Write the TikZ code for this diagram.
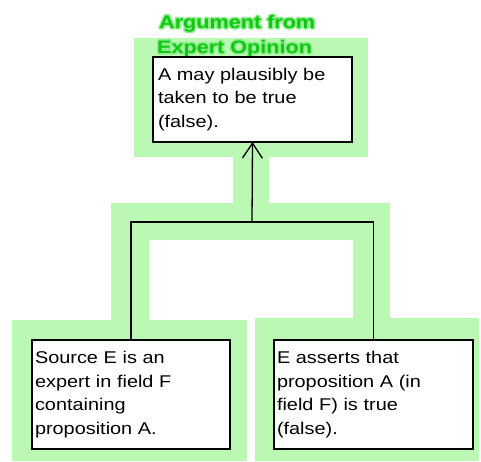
\documentclass[tikz,border=0pt]{standalone}
\usepackage{fontspec}
\usetikzlibrary{arrows.meta}
\newfontfamily\boxfont[FakeStretch=1.17]{Liberation Sans}
\newfontfamily\titlefont[FakeStretch=1.2]{Liberation Sans Bold}
\definecolor{band}{RGB}{186,248,180}
\definecolor{titlegreen}{RGB}{16,200,16}
\definecolor{halo}{RGB}{140,236,140}
% outlined text (stroke only) for the soft rim behind the title
\newcommand{\rimtext}[1]{\special{pdf:literal direct 1 Tr 3.2 w 1 j}#1\special{pdf:literal direct 0 Tr}}
\tikzset{
  claim/.style={draw=black, line width=1.3pt, fill=white, outer sep=0pt,
    inner xsep=3pt, inner ysep=0pt, align=left,
    font=\boxfont\fontsize{17}{23.5}\selectfont},
  link/.style={draw=black, line width=1.3pt},
  titletext/.style={anchor=base west, inner sep=0pt, text=titlegreen,
    font=\titlefont\fontsize{18}{25}\selectfont},
}
\begin{document}
\begin{tikzpicture}[x=1pt, y=-1pt]
\useasboundingbox (0,0) rectangle (481,461);

% light green backdrop along the argument structure
\begin{scope}[band]
  \fill (134,38) rectangle (368,157);
  \fill (233,156) rectangle (269,204);
  \fill (111,203) rectangle (390,240);
  \fill (111,239) rectangle (149,321);
  \fill (353,239) rectangle (390,321);
  \fill (12,320) rectangle (247,461);
  \fill (255,318) rectangle (479,461);
\end{scope}

% scheme title with a light rim
\node[titletext, text=halo] (rim1) at (159,28) {\rimtext{Argument from}};
\node[titletext, text=halo] (rim2) at (157,53) {\rimtext{Expert Opinion}};
\node[titletext] (title1) at (159,28) {Argument from};
\node[titletext] (title2) at (157,53) {Expert Opinion};

% conclusion and premises
\node[claim, inner xsep=5pt, text width=189pt, minimum height=85pt]
  (concl) at (252.5,99.5) {A may plausibly be\\taken to be true\\(false).};
\node[claim, text width=192pt, minimum height=109pt]
  (prem1) at (131,394.5) {Source E is an\\expert in field F\\containing\\proposition A.};
\node[claim, text width=193pt, minimum height=109pt]
  (prem2) at (373.5,394.5) {E asserts that\\proposition A (in\\field F) is true\\(false).};

% linked premises joining into the conclusion
\coordinate (join) at (252,222);
\draw[link] (prem1.north) |- (join) -| (prem2.north);
\draw[link, -{Straight Barb[length=15pt, width=20pt, line width=1.3pt]}] (join) -- (concl.south);
\end{tikzpicture}
\end{document}
